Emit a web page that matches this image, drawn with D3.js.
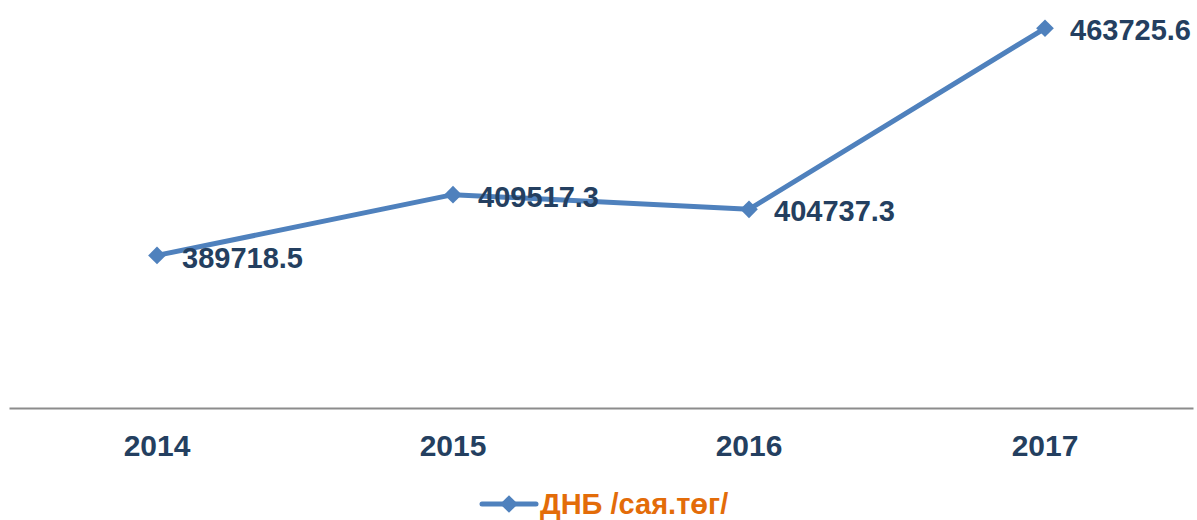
<!DOCTYPE html>
<html>
<head>
<meta charset="utf-8">
<script src="https://cdnjs.cloudflare.com/ajax/libs/d3/7.8.5/d3.min.js"></script>
<style>
  body { margin: 0; background: #fff; }
  svg { display: block; font-family: "Liberation Sans", Arial, sans-serif; }
</style>
</head>
<body>
<script>
'use strict';

var years  = ["2014", "2015", "2016", "2017"];
var values = [389718.5, 409517.3, 404737.3, 463725.6];
var valueLabels = ["389718.5", "409517.3", "404737.3", "463725.6"];
var seriesName = "ДНБ /сая.төг/";

var W = 1197, H = 520;
var margin = {top: 9, right: 4, bottom: 112, left: 9};

var svg = d3.select("body").append("svg")
    .attr("width", W)
    .attr("height", H);

var xScale = d3.scaleBand().domain(years).range([margin.left, W - margin.right]);
var yScale = d3.scaleLinear().domain([340000, 470000]).range([H - margin.bottom, margin.top]);

var cx = function(d) { return xScale(d) + xScale.bandwidth() / 2; };

// axis line
var xAxis = d3.axisBottom(xScale).tickSize(0).tickPadding(27);
var gx = svg.append("g")
    .attr("transform", "translate(0," + yScale(340000) + ")")
    .call(xAxis);
gx.select(".domain").attr("stroke", "#8c8c8c").attr("stroke-width", 2);
gx.selectAll("text")
    .attr("fill", "#243f60")
    .style("font-size", "30px")
    .style("font-weight", "bold")
    .style("font-family", "'Liberation Sans', Arial, sans-serif");

// line
var line = d3.line()
    .x(function(d, i) { return cx(years[i]); })
    .y(function(d) { return yScale(d); });

svg.append("path")
    .datum(values)
    .attr("fill", "none")
    .attr("stroke", "#4f81bd")
    .attr("stroke-width", 5)
    .attr("stroke-linejoin", "round")
    .attr("d", line);

var diamond = d3.symbol().type(d3.symbolDiamond2).size(200);

svg.selectAll(".mk")
    .data(values)
    .enter().append("path")
    .attr("class", "mk")
    .attr("fill", "#4f81bd")
    .attr("d", diamond)
    .attr("transform", function(d, i) {
        return "translate(" + cx(years[i]) + "," + yScale(d) + ")";
    });

// data labels
svg.selectAll(".lbl")
    .data(values)
    .enter().append("text")
    .attr("class", "lbl")
    .attr("x", function(d, i) { return cx(years[i]) + 25; })
    .attr("y", function(d) { return yScale(d) + 2; })
    .attr("dy", "0.35em")
    .attr("fill", "#243f60")
    .style("font-size", "29px")
    .style("font-weight", "bold")
    .text(function(d, i) { return valueLabels[i]; });

// legend
var lg = svg.append("g").attr("transform", "translate(482,504)");
lg.append("line")
    .attr("x1", 0).attr("x2", 54)
    .attr("y1", 0).attr("y2", 0)
    .attr("stroke", "#4f81bd")
    .attr("stroke-width", 5)
    .attr("stroke-linecap", "round");
lg.append("path")
    .attr("d", diamond)
    .attr("fill", "#4f81bd")
    .attr("transform", "translate(27,0)");
lg.append("text")
    .attr("x", 58)
    .attr("y", 0)
    .attr("dy", "0.33em")
    .attr("fill", "#e36c09")
    .style("font-size", "29px")
    .style("font-weight", "bold")
    .text(seriesName);
</script>
</body>
</html>
